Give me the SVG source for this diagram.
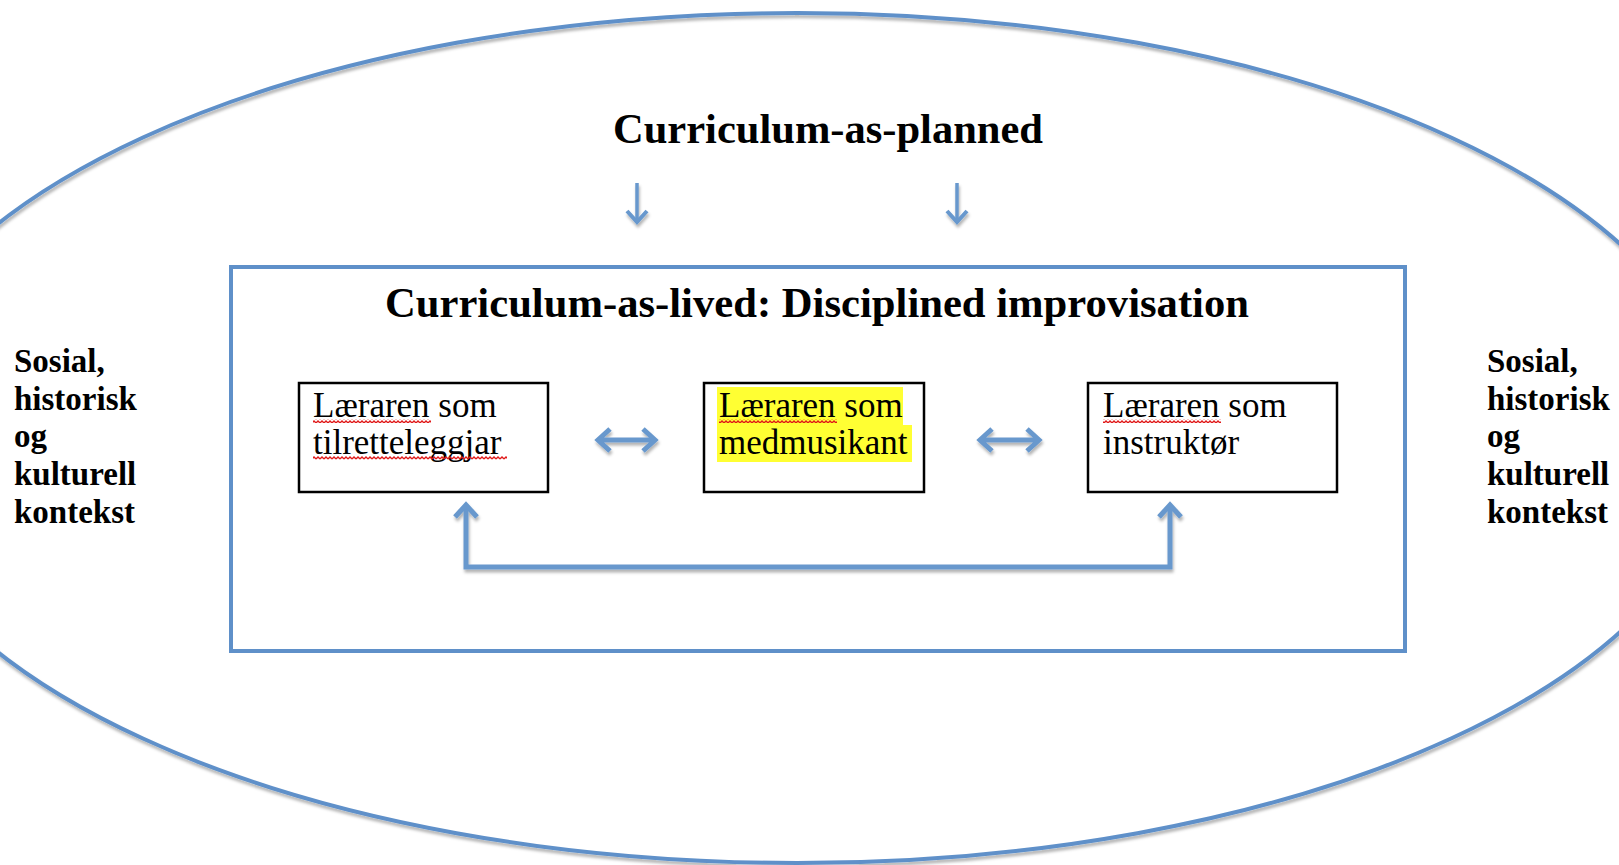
<svg xmlns="http://www.w3.org/2000/svg" width="1619" height="865" viewBox="0 0 1619 865">
<style>
.bold{font-family:"Liberation Serif","Times New Roman",serif;font-weight:bold;fill:#000}
.t42{font-size:42.5px}
.side{font-size:33px}
.box{fill:#fff;stroke:#000;stroke-width:2.5}
.lbl{font-family:"Liberation Serif","Times New Roman",serif;font-size:35px;fill:#000}
.blue{fill:none;stroke:#5f90c9}
.conn{fill:none;stroke:#6898cd;stroke-linejoin:miter}
</style>
<defs>
<filter id="sh" x="-10%" y="-10%" width="120%" height="130%">
<feDropShadow dx="1" dy="3" stdDeviation="1.5" flood-color="#000" flood-opacity="0.3"/>
</filter>
<marker id="headBig" viewBox="0 0 26 30" refX="22" refY="15" markerWidth="26" markerHeight="30" markerUnits="userSpaceOnUse" orient="auto-start-reverse">
<path d="M10 4 L22 15 L10 26" fill="none" stroke="#6898cd" stroke-width="5"/>
</marker>
<marker id="headSmall" viewBox="0 0 26 30" refX="22" refY="15" markerWidth="26" markerHeight="30" markerUnits="userSpaceOnUse" orient="auto-start-reverse">
<path d="M11 5 L22 15 L11 25" fill="none" stroke="#6898cd" stroke-width="4"/>
</marker>
<pattern id="squig" x="0" y="0" width="4" height="4" patternUnits="userSpaceOnUse">
<path d="M0 3 L2 1 L4 3" fill="none" stroke="#e01818" stroke-width="1.3"/>
</pattern>
</defs>

<g id="context-ellipse">
<ellipse cx="797" cy="438" rx="925" ry="425" class="blue" stroke-width="4" filter="url(#sh)"/>
</g>

<g id="planned">
<text class="bold t42" x="613" y="143" textLength="430" lengthAdjust="spacingAndGlyphs">Curriculum-as-planned</text>
</g>

<g id="lived">
<rect x="231" y="267" width="1174" height="384" class="blue" stroke-width="4"/>
<text class="bold t42" x="385" y="317" textLength="864" lengthAdjust="spacingAndGlyphs">Curriculum-as-lived: Disciplined improvisation</text>
</g>

<g id="context-left">
<text class="bold side" x="14" y="372">Sosial,</text>
<text class="bold side" x="14" y="410">historisk</text>
<text class="bold side" x="14" y="447">og</text>
<text class="bold side" x="14" y="485">kulturell</text>
<text class="bold side" x="14" y="523">kontekst</text>
</g>

<g id="context-right">
<text class="bold side" x="1487" y="372">Sosial,</text>
<text class="bold side" x="1487" y="410">historisk</text>
<text class="bold side" x="1487" y="447">og</text>
<text class="bold side" x="1487" y="485">kulturell</text>
<text class="bold side" x="1487" y="523">kontekst</text>
</g>

<g id="tilretteleggjar">
<rect x="299" y="383" width="249" height="109" class="box"/>
<text class="lbl" x="313" y="417">Læraren som</text>
<text class="lbl" x="313" y="454">tilretteleggjar</text>
<rect x="313" y="419" width="118" height="4" fill="url(#squig)"/>
<rect x="313" y="456" width="194" height="4" fill="url(#squig)"/>
</g>

<g id="medmusikant">
<rect x="704" y="383" width="220" height="109" class="box"/>
<path d="M717 387 H903 V425 H912 V462 H717 Z" fill="#ffff33"/>
<text class="lbl" x="719" y="417">Læraren som</text>
<text class="lbl" x="719" y="454">medmusikant</text>
<rect x="719" y="419" width="118" height="4" fill="url(#squig)"/>
</g>

<g id="instruktor">
<rect x="1088" y="383" width="249" height="109" class="box"/>
<text class="lbl" x="1103" y="417">Læraren som</text>
<text class="lbl" x="1103" y="454">instruktør</text>
<rect x="1103" y="419" width="118" height="4" fill="url(#squig)"/>
</g>

<g id="connectors" filter="url(#sh)">
<path d="M637 183 V222" class="conn" stroke-width="3.5" marker-end="url(#headSmall)"/>
<path d="M957 183 V222" class="conn" stroke-width="3.5" marker-end="url(#headSmall)"/>
<path d="M598 440 H655" class="conn" stroke-width="5" marker-start="url(#headBig)" marker-end="url(#headBig)"/>
<path d="M980 440 H1039" class="conn" stroke-width="5" marker-start="url(#headBig)" marker-end="url(#headBig)"/>
<path d="M466 505 V567 H1170 V505" class="conn" stroke-width="5" marker-start="url(#headBig)" marker-end="url(#headBig)"/>
</g>
</svg>
